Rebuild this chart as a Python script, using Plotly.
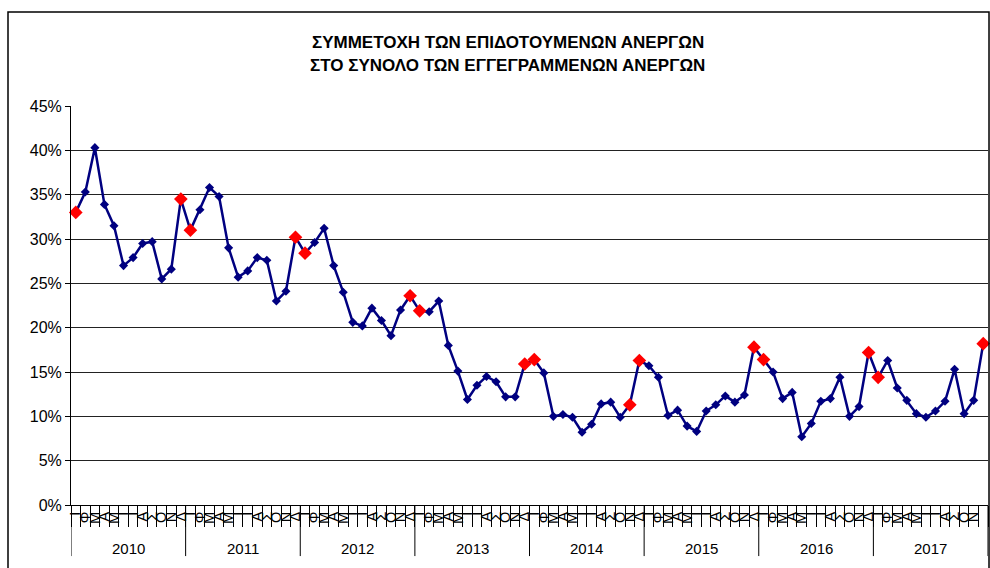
import plotly.graph_objects as go

# Data: monthly share (%) 2010-2017
years = ["2010", "2011", "2012", "2013", "2014", "2015", "2016", "2017"]
months = ["Ι", "Φ", "Μ", "Α", "Μ", "Ι", "Ι", "Α", "Σ", "Ο", "Ν", "Δ"]

v2010 = [33.0, 35.3, 40.3, 33.9, 31.5, 27.0, 27.9, 29.5, 29.7, 25.5, 26.6, 34.5]
v2011 = [31.0, 33.3, 35.8, 34.8, 29.0, 25.7, 26.4, 27.9, 27.6, 23.0, 24.1, 30.2]
v2012 = [28.4, 29.6, 31.2, 27.0, 24.0, 20.6, 20.2, 22.2, 20.8, 19.1, 22.0, 23.6]
v2013 = [21.9, 21.8, 23.0, 18.0, 15.1, 11.9, 13.5, 14.5, 13.9, 12.2, 12.2, 15.9]
v2014 = [16.4, 14.9, 10.0, 10.2, 9.9, 8.2, 9.1, 11.4, 11.6, 9.9, 11.3, 16.3]
v2015 = [15.7, 14.4, 10.1, 10.7, 8.9, 8.3, 10.6, 11.3, 12.3, 11.6, 12.4, 17.8]
v2016 = [16.4, 15.0, 12.0, 12.7, 7.7, 9.2, 11.7, 12.0, 14.4, 10.0, 11.1, 17.2]
v2017 = [14.4, 16.3, 13.2, 11.8, 10.3, 9.9, 10.6, 11.7, 15.3, 10.3, 11.8, 18.2]

# highlighted (red) months, as (year, month index)
highlights = [("2010", 0), ("2010", 11), ("2011", 0), ("2011", 11), ("2012", 0),
              ("2012", 11), ("2013", 0), ("2013", 11), ("2014", 0), ("2014", 10),
              ("2014", 11), ("2015", 11), ("2016", 0), ("2016", 11), ("2017", 0),
              ("2017", 11)]

values = v2010 + v2011 + v2012 + v2013 + v2014 + v2015 + v2016 + v2017
n = len(values)
xs = list(range(n))
ys = [v / 100 for v in values]
tick_text = months * len(years)

hx = [years.index(y) * 12 + m for y, m in highlights]
hy = [ys[i] for i in hx]

fig = go.Figure()
fig.add_trace(go.Scatter(x=xs, y=ys, mode="lines+markers",
                         line=dict(color="#000080", width=2.5),
                         marker=dict(symbol="diamond", size=7, color="#000080"),
                         showlegend=False, cliponaxis=False))
fig.add_trace(go.Scatter(x=hx, y=hy, mode="markers",
                         marker=dict(symbol="diamond", size=10.5, color="#ff0000"),
                         showlegend=False, cliponaxis=False))

# year separators and labels
for k in range(len(years) + 1):
    fig.add_shape(type="line", xref="x", yref="paper", x0=12 * k - 0.5, x1=12 * k - 0.5,
                  y0=0, y1=-0.128, line=dict(color="black", width=1))
for k, yr in enumerate(years):
    fig.add_annotation(x=12 * k + 5.5, y=-0.11, xref="x", yref="paper", text=yr,
                       showarrow=False, yanchor="middle",
                       font=dict(family="Liberation Sans, Arial", size=15, color="black"))

# outer chart frame
fig.add_shape(type="rect", xref="paper", yref="paper", x0=-0.0687, x1=1.0011,
              y0=-0.3, y1=1.2356, line=dict(color="black", width=1.5))

title_font = dict(family="Liberation Sans Narrow, Arial Narrow, Liberation Sans", size=17, color="black")
fig.add_annotation(x=0.4765, y=1.16, xref="paper", yref="paper",
                   text="<b>ΣΥΜΜΕΤΟΧΗ ΤΩΝ ΕΠΙΔΟΤΟΥΜΕΝΩΝ ΑΝΕΡΓΩΝ</b>",
                   showarrow=False, yanchor="middle", font=title_font)
fig.add_annotation(x=0.4765, y=1.102, xref="paper", yref="paper",
                   text="<b>ΣΤΟ ΣΥΝΟΛΟ ΤΩΝ ΕΓΓΕΓΡΑΜΜΕΝΩΝ ΑΝΕΡΓΩΝ</b>",
                   showarrow=False, yanchor="middle", font=title_font)

fig.update_layout(
    width=990, height=568,
    margin=dict(l=71, r=2, t=106, b=63),
    paper_bgcolor="white", plot_bgcolor="white",
    font=dict(family="Liberation Sans, Arial", color="black"),
    xaxis=dict(range=[-0.5, n - 0.5], tickmode="array", tickvals=xs, ticktext=tick_text,
               tickangle=-90, ticks="", showgrid=False, zeroline=False,
               showline=True, linecolor="black", linewidth=1,
               tickfont=dict(size=14.5, color="black"),
               minor=dict(ticks="outside", tick0=-0.5, dtick=1, ticklen=21,
                          tickcolor="black", tickwidth=1, showgrid=False)),
    yaxis=dict(range=[0, 0.45], dtick=0.05, tickformat=".0%", showgrid=True,
               gridcolor="#222222", gridwidth=1, zeroline=False,
               showline=True, linecolor="black", linewidth=1,
               ticks="outside", ticklen=5, tickcolor="black",
               tickfont=dict(size=16, color="black")),
)

# remove default page margin so the figure fills the window exactly
fig.write_html("out.html", config={"displayModeBar": False},
               post_script="document.body.style.margin='0';document.body.style.overflow='hidden';")
